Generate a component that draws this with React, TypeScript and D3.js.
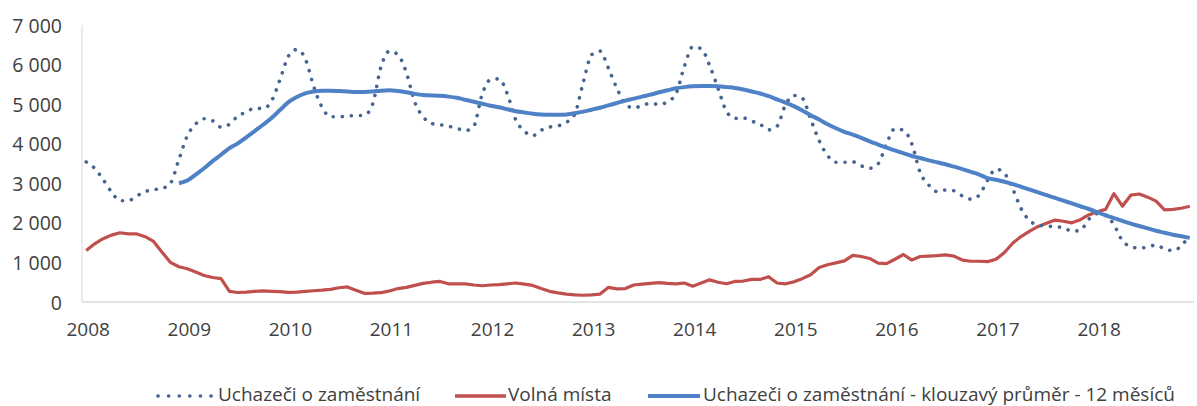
import React, { useEffect, useRef } from 'react';
import * as d3 from 'd3';

// monthly data, Jan 2008 - Dec 2018
const YEAR_LABELS = ['2008', '2009', '2010', '2011', '2012', '2013', '2014', '2015', '2016', '2017', '2018'];
const Y_TICKS = [0, 1000, 2000, 3000, 4000, 5000, 6000, 7000];

const uchazeci = [
  3540, 3380, 3100, 2780, 2560, 2560, 2680, 2790, 2840, 2870, 3000, 3600,
  4200, 4500, 4630, 4580, 4420, 4490, 4700, 4800, 4900, 4890, 5080, 5620,
  6210, 6380, 6150, 5450, 4920, 4680, 4680, 4700, 4710, 4720, 5000, 5950,
  6340, 6250, 5800, 5050, 4680, 4510, 4480, 4440, 4390, 4330, 4440, 5250,
  5620, 5640, 5250, 4600, 4320, 4200, 4340, 4420, 4450, 4540, 4750, 5550,
  6250, 6340, 5900, 5400, 5000, 4900, 4970, 5020, 4990, 5060, 5260, 5950,
  6450, 6400, 5980, 5400, 4820, 4640, 4650, 4570, 4490, 4350, 4440, 4980,
  5220, 5150, 4620, 4080, 3700, 3530, 3530, 3540, 3440, 3380, 3490, 4000,
  4380, 4340, 4000, 3270, 2960, 2790, 2830, 2810, 2680, 2600, 2700, 3080,
  3360, 3250, 2850, 2350, 2050, 1950, 1920, 1900, 1880, 1790, 1810, 2090,
  2230, 2200, 1950, 1550, 1400, 1360, 1390, 1440, 1340, 1300, 1420, 1700,
];

const volnaMista = [
  1300, 1470, 1600, 1690, 1750, 1720, 1720, 1650, 1530, 1260, 1000, 890,
  840, 760, 670, 620, 590, 270, 240, 250, 270, 280, 270, 260,
  245, 250, 270, 285, 300, 320, 360, 380, 300, 220, 225, 235,
  280, 340, 370, 420, 470, 500, 520, 460, 460, 460, 430, 410,
  430, 440, 460, 480, 450, 420, 340, 270, 230, 200, 180, 170,
  180, 200, 370, 330, 340, 430, 450, 470, 490, 470, 460, 480,
  400, 480, 560, 500, 460, 520, 530, 570, 570, 640, 480, 460,
  510, 590, 690, 870, 940, 990, 1040, 1180, 1150, 1100, 980, 970,
  1080, 1200, 1060, 1150, 1160, 1170, 1190, 1160, 1060, 1030, 1030, 1020,
  1080, 1250, 1490, 1660, 1790, 1910, 1990, 2070, 2040, 2000, 2080, 2200,
  2280, 2340, 2740, 2420, 2700, 2730, 2650, 2550, 2330, 2340, 2370, 2420,
];

const klouzavyPrumer = [
  null, null, null, null, null, null, null, null, null, null, null, 3000,
  3070, 3220, 3380, 3560, 3720, 3890, 4010, 4160, 4320, 4480, 4650, 4850,
  5050, 5180, 5270, 5320, 5340, 5340, 5330, 5320, 5310, 5310, 5320, 5340,
  5350, 5330, 5300, 5260, 5230, 5220, 5210, 5190, 5160, 5110, 5060, 5010,
  4960, 4920, 4870, 4820, 4790, 4760, 4740, 4730, 4730, 4740, 4770, 4810,
  4860, 4910, 4970, 5030, 5090, 5140, 5190, 5240, 5300, 5350, 5400, 5430,
  5450, 5460, 5460, 5450, 5430, 5410, 5370, 5320, 5270, 5200, 5120, 5040,
  4950, 4840, 4720, 4610, 4490, 4390, 4300, 4230, 4150, 4060, 3980, 3900,
  3830, 3760, 3690, 3640, 3580, 3530, 3480, 3420, 3360, 3290, 3220, 3130,
  3090, 3040, 2980, 2910, 2840, 2770, 2700, 2630, 2560, 2490, 2420, 2350,
  2270, 2190, 2120, 2050, 1980, 1920, 1860, 1800, 1750, 1700, 1660, 1620,
];

const LEGEND = [
  'Uchazeči o zaměstnání',
  'Volná místa',
  'Uchazeči o zaměstnání - klouzavý průměr - 12 měsíců',
];

const App = () => {
  const svgRef = useRef(null);

  useEffect(() => {
    const width = 1197;
    const height = 406;
    const font = '"Open Sans", sans-serif';
    const textColor = '#404040';
    const blue = '#4f81c6';
    const red = '#c0504d';
    const dotColor = '#46648f';

    const svg = d3.select(svgRef.current);
    svg.selectAll('*').remove();
    svg.attr('width', width).attr('height', height);

    const n = uchazeci.length;
    const x = d3.scaleLinear().domain([-0.5, n - 0.5]).range([82, 1194]);
    const y = d3.scaleLinear().domain([0, 7000]).range([302, 25]);

    const fmt = d3.formatLocale({ decimal: ',', thousands: '\u00a0', grouping: [3], currency: ['', ' Kč'] }).format(',d');

    // axis lines
    svg.append('line')
      .attr('x1', x.range()[0]).attr('x2', x.range()[0])
      .attr('y1', y(7000)).attr('y2', y(0))
      .style('stroke', '#d9d9d9').style('stroke-width', 1);
    svg.append('line')
      .attr('x1', x.range()[0]).attr('x2', x.range()[1])
      .attr('y1', y(0)).attr('y2', y(0))
      .style('stroke', '#c8c8c8').style('stroke-width', 1.2);

    // y labels
    svg.selectAll('.ylab')
      .data(Y_TICKS)
      .enter()
      .append('text')
      .attr('class', 'ylab')
      .attr('x', 62)
      .attr('y', d => y(d))
      .attr('text-anchor', 'end')
      .attr('dominant-baseline', 'central')
      .style('font-family', font)
      .style('font-size', '19.5px')
      .style('fill', textColor)
      .text(d => fmt(d));

    // x labels, one per year at January
    svg.selectAll('.xlab')
      .data(YEAR_LABELS)
      .enter()
      .append('text')
      .attr('class', 'xlab')
      .attr('x', (d, i) => x(i * 12) + 2)
      .attr('y', 329)
      .attr('text-anchor', 'middle')
      .attr('dominant-baseline', 'central')
      .style('font-family', font)
      .style('font-size', '19px')
      .style('fill', textColor)
      .text(d => d);

    const line = d3.line()
      .defined(d => d != null)
      .x((d, i) => x(i))
      .y(d => y(d));

    // red: vacancies
    svg.append('path')
      .datum(volnaMista)
      .attr('d', line.curve(d3.curveLinear))
      .style('fill', 'none')
      .style('stroke', red)
      .style('stroke-width', 3.2)
      .style('stroke-linejoin', 'round');

    // dotted: applicants
    svg.append('path')
      .datum(uchazeci)
      .attr('d', line.curve(d3.curveMonotoneX))
      .style('fill', 'none')
      .style('stroke', dotColor)
      .style('stroke-width', 3.6)
      .style('stroke-linecap', 'round')
      .style('stroke-dasharray', '0.1 9');

    // blue: 12 month moving average
    svg.append('path')
      .datum(klouzavyPrumer)
      .attr('d', line.curve(d3.curveMonotoneX))
      .style('fill', 'none')
      .style('stroke', blue)
      .style('stroke-width', 4)
      .style('stroke-linejoin', 'round');

    // legend
    const ly = 396;
    const items = [
      { x0: 158, x1: 212, tx: 218, color: dotColor, dash: '0.1 10.5', w: 3.6 },
      { x0: 455, x1: 506, tx: 508, color: red, dash: null, w: 3.6 },
      { x0: 648, x1: 700, tx: 703, color: blue, dash: null, w: 4 },
    ];
    items.forEach((it, i) => {
      svg.append('line')
        .attr('x1', it.x0).attr('x2', it.x1)
        .attr('y1', ly).attr('y2', ly)
        .style('stroke', it.color)
        .style('stroke-width', it.w)
        .style('stroke-linecap', it.dash ? 'round' : 'butt')
        .style('stroke-dasharray', it.dash);
      svg.append('text')
        .attr('x', it.tx)
        .attr('y', 401)
        .style('font-family', font)
        .style('font-size', '19px')
        .style('fill', textColor)
        .text(LEGEND[i]);
    });
  }, []);

  return (
    <div style={{ position: 'absolute', left: 0, top: 0, background: '#fff' }}>
      <svg ref={svgRef} style={{ display: 'block' }}></svg>
    </div>
  );
};

export default App;
